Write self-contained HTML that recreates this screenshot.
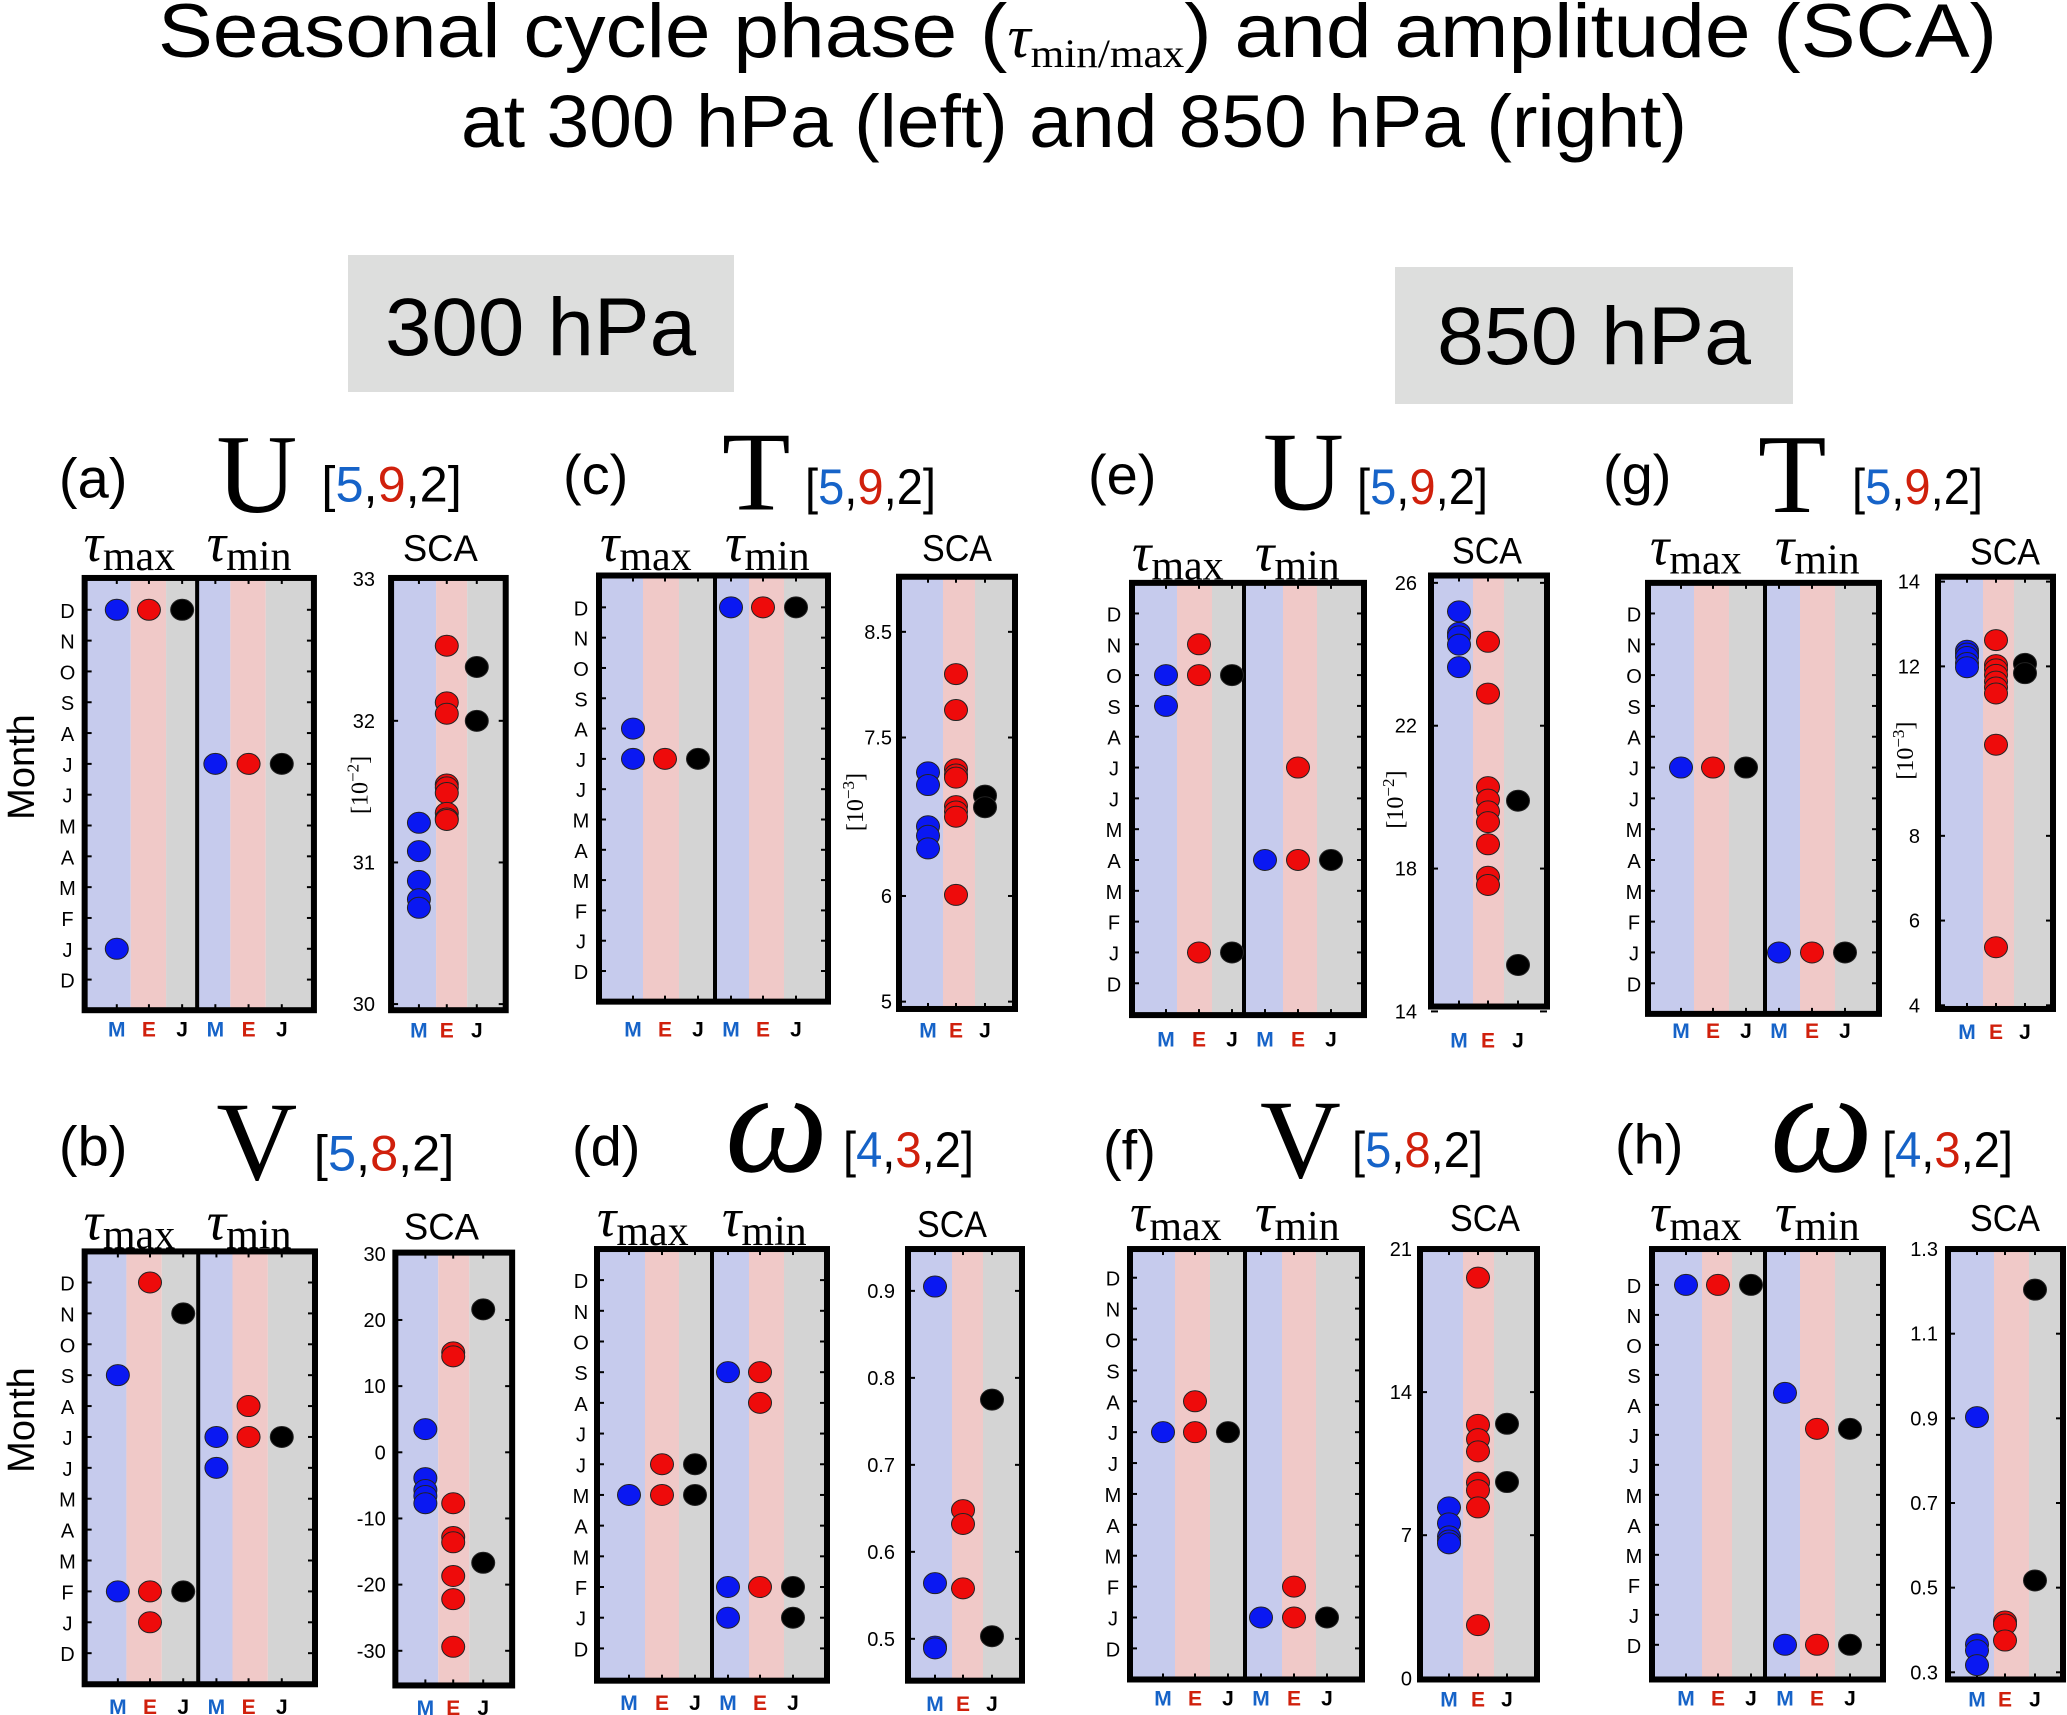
<!DOCTYPE html>
<html><head><meta charset="utf-8"><style>
html,body{margin:0;padding:0;background:#fff;}
svg{display:block;}
text{font-family:"Liberation Sans",sans-serif;}
.serif{font-family:"Liberation Serif",serif;}
</style></head><body>
<svg id="fig" xmlns="http://www.w3.org/2000/svg" width="2067" height="1715" viewBox="0 0 2067 1715">
<rect x="0" y="0" width="2067" height="1715" fill="#fff"/>
<g>
<text x="158" y="57" font-size="76" textLength="1839" lengthAdjust="spacingAndGlyphs">Seasonal cycle phase (<tspan class="serif" font-style="italic" font-size="60">τ</tspan><tspan class="serif" font-size="40" dy="10">min/max</tspan><tspan dy="-10">) and amplitude (SCA)</tspan></text>
<text x="461" y="147" font-size="74" textLength="1226" lengthAdjust="spacingAndGlyphs">at 300 hPa (left) and 850 hPa (right)</text>
</g>
<rect x="348" y="255" width="386" height="137" fill="#dddedd"/>
<text x="385" y="355" font-size="82" textLength="311" lengthAdjust="spacingAndGlyphs">300 hPa</text>
<rect x="1395" y="267" width="398" height="137" fill="#dddedd"/>
<text x="1437" y="364" font-size="82" textLength="314" lengthAdjust="spacingAndGlyphs">850 hPa</text>
<text transform="translate(34,767) rotate(-90)" font-size="38" text-anchor="middle">Month</text>
<text transform="translate(34,1420) rotate(-90)" font-size="38" text-anchor="middle">Month</text>
<g id="panels"></g>
</svg>
<script>
// ---- data ----
// panel a : U 300 hPa
const a_tmaxM=[12,1], a_tmaxE=[12], a_tmaxJ=[12];
const a_tminM=[7], a_tminE=[7], a_tminJ=[7];
const a_scaM=[31.28,31.08,30.87,30.74,30.68];
const a_scaE=[32.53,32.13,32.05,31.55,31.53,31.49,31.35,31.31,31.3];
const a_scaJ=[32.38,32.0];
const a_ticks=[33,32,31,30];
// panel b : V 300 hPa
const b_tmaxM=[9,2], b_tmaxE=[12,2,1], b_tmaxJ=[11,2];
const b_tminM=[7,6], b_tminE=[8,7], b_tminJ=[7];
const b_scaM=[3.5,-3.9,-5.7,-6.6,-7.7];
const b_scaE=[15.1,14.5,-7.7,-12.8,-13.6,-18.7,-22.2,-29.4];
const b_scaJ=[21.6,-16.7];
const b_ticks=[30,20,10,0,-10,-20,-30];
// panel c : T 300 hPa
const c_tmaxM=[8,7], c_tmaxE=[7], c_tmaxJ=[7];
const c_tminM=[12], c_tminE=[12], c_tminJ=[12];
const c_scaM=[7.17,7.05,6.66,6.57,6.45];
const c_scaE=[8.1,7.76,7.2,7.15,7.12,6.85,6.8,6.75,6.01];
const c_scaJ=[6.95,6.84];
const c_ticks=[8.5,7.5,6,5];
// panel d : omega 300 hPa
const d_tmaxM=[5], d_tmaxE=[6,5], d_tmaxJ=[6,5];
const d_tminM=[9,2,1], d_tminE=[9,8,2], d_tminJ=[2,1];
const d_scaM=[0.905,0.564,0.491,0.489];
const d_scaE=[0.648,0.632,0.558];
const d_scaJ=[0.775,0.503];
const d_ticks=[0.9,0.8,0.7,0.6,0.5];
// panel e : U 850 hPa
const e_tmaxM=[10,9], e_tmaxE=[11,10,1], e_tmaxJ=[10,1];
const e_tminM=[4], e_tminE=[7,4], e_tminJ=[4];
const e_scaM=[25.2,24.6,24.5,24.27,23.64];
const e_scaE=[24.35,22.9,20.28,19.93,19.6,19.3,18.68,17.77,17.54];
const e_scaJ=[19.9,15.3];
const e_ticks=[26,22,18,14];
// panel f : V 850 hPa
const f_tmaxM=[7], f_tmaxE=[8,7], f_tmaxJ=[7];
const f_tminM=[1], f_tminE=[2,1], f_tminJ=[1];
const f_scaM=[8.36,7.58,6.94,6.74,6.6];
const f_scaE=[19.6,12.4,11.7,11.1,9.57,9.2,8.36,2.6];
const f_scaJ=[12.45,9.6];
const f_ticks=[21,14,7,0];
// panel g : T 850 hPa
const g_tmaxM=[7], g_tmaxE=[7], g_tmaxJ=[7];
const g_tminM=[1], g_tminE=[1], g_tminJ=[1];
const g_scaM=[12.37,12.3,12.22,12.08,11.98];
const g_scaE=[12.62,12.03,11.93,11.8,11.64,11.5,11.36,10.15,5.37];
const g_scaJ=[12.06,11.84];
const g_ticks=[14,12,8,6,4];
// panel h : omega 850 hPa
const h_tmaxM=[12], h_tmaxE=[12], h_tmaxJ=[12];
const h_tminM=[8.4,0], h_tminE=[7.2,0], h_tminJ=[7.2,0];
const h_scaM=[0.903,0.366,0.352,0.317];
const h_scaE=[0.42,0.413,0.375];
const h_scaJ=[1.204,0.517];
const h_ticks=[1.3,1.1,0.9,0.7,0.5,0.3];
const monthLabels=['D','J','F','M','A','M','J','J','A','S','O','N','D'];

// ---- layout (geometry only) ----
const NS='http://www.w3.org/2000/svg';
const root=document.getElementById('panels');
function mk(tag,attrs,parent){const e=document.createElementNS(NS,tag);for(const k in attrs)e.setAttribute(k,attrs[k]);parent.appendChild(e);return e;}
const BAND=['#c6cbed','#f0c9c8','#d4d4d4'];
const DOT=['#0a18f2','#ee0b0b','#000000'];
const LAB=['#1663c8','#d0200c','#000000'];
const panels=[
 {id:'a',o:[0,420,2.8,2.45],label:'(a)',lx:55,ly:480,v:'U',vx:202,vy:495,vs:112,nums:['5','9','2'],nx:300,ny:484,tmx:78,tmn:193,ty:535,scx:376,scy:535,
  ph:{x0:79,x1:293,y0:549,y1:902,div:184,bands:[79,122,155,184,215,248,293],cols:[109,139,170,201,232,263],m12:575,m0:877},monthX:63,mejY:917,
  sca:{x0:365,x1:472,y0:549,y1:902,bands:[365,407,436,472],cols:[391,417,445],v0:33,p0:550,v1:30,p1:897,tickX:350},unit:{x:343,y:718,e:'−2'},
  data:[a_tmaxM,a_tmaxE,a_tmaxJ,a_tminM,a_tminE,a_tminJ],sd:[a_scaM,a_scaE,a_scaJ],ticks:a_ticks},
 {id:'b',o:[0,1090,2.8,2.509],label:'(b)',lx:55,ly:1150,v:'V',vx:202,vy:1165,vs:112,nums:['5','8','2'],nx:293,ny:1155,tmx:78,tmn:193,ty:1215,scx:377,scy:1215,
  ph:{x0:79,x1:294,y0:1225,y1:1587,div:185,bands:[79,118,151,185,217,250,294],cols:[110,140,171,202,232,263],m12:1251,m0:1561},monthX:63,mejY:1605,
  sca:{x0:369,x1:478,y0:1226,y1:1588,bands:[369,409,438,478],cols:[397,423,451],v0:30,p0:1227,v1:-30,p1:1559,tickX:360},unit:null,
  data:[b_tmaxM,b_tmaxE,b_tmaxJ,b_tminM,b_tminE,b_tminJ],sd:[b_scaM,b_scaE,b_scaJ],ticks:b_ticks},
 {id:'c',o:[540,420,3.0,2.45],label:'(c)',lx:563,ly:477,v:'T',vx:722,vy:493,vs:112,nums:['5','9','2'],nx:805,ny:486,tmx:600,tmn:725,ty:535,scx:922,scy:535,
  ph:{x0:599,x1:828,y0:547,y1:895,div:715,bands:[599,643,679,715,749,784,828],cols:[633,665,698,731,763,796],m12:573,m0:870},monthX:581,mejY:917,
  sca:{x0:899,x1:1015,y0:548,y1:901,bands:[899,943,975,1015],cols:[928,956,985],v0:8.5,p0:593,v1:5,p1:895,tickX:892},unit:{x:863,y:732,e:'−3'},
  data:[c_tmaxM,c_tmaxE,c_tmaxJ,c_tminM,c_tminE,c_tminJ],sd:[c_scaM,c_scaE,c_scaJ],ticks:c_ticks},
 {id:'d',o:[540,1090,3.0,2.509],label:'(d)',lx:572,ly:1150,v:'ω',vx:725,vy:1158,vs:146,nums:['4','3','2'],nx:843,ny:1152,tmx:597,tmn:722,ty:1212,scx:917,scy:1213,
  ph:{x0:597,x1:827,y0:1223,y1:1584,div:712,bands:[597,645,679,712,749,784,827],cols:[629,662,695,728,760,793],m12:1249,m0:1557},monthX:581,mejY:1602,
  sca:{x0:908,x1:1022,y0:1223,y1:1584,bands:[908,952,983,1022],cols:[935,963,992],v0:0.9,p0:1258,v1:0.5,p1:1549,tickX:895},unit:null,
  data:[d_tmaxM,d_tmaxE,d_tmaxJ,d_tminM,d_tminE,d_tminJ],sd:[d_scaM,d_scaE,d_scaJ],ticks:d_ticks},
 {id:'e',o:[1060,420,3.0,2.45],label:'(e)',lx:1088,ly:477,v:'U',vx:1263,vy:493,vs:112,nums:['5','9','2'],nx:1357,ny:486,tmx:1132,tmn:1255,ty:543,scx:1452,scy:537,
  ph:{x0:1132,x1:1364,y0:553,y1:906,div:1244,bands:[1132,1177,1212,1244,1283,1317,1364],cols:[1166,1199,1232,1265,1298,1331],m12:578,m0:880},monthX:1114,mejY:925,
  sca:{x0:1431,x1:1547,y0:547,y1:899,bands:[1431,1473,1504,1547],cols:[1459,1488,1518],v0:26,p0:553,v1:14,p1:903,tickX:1417},unit:{x:1403,y:730,e:'−2'},
  data:[e_tmaxM,e_tmaxE,e_tmaxJ,e_tminM,e_tminE,e_tminJ],sd:[e_scaM,e_scaE,e_scaJ],ticks:e_ticks},
 {id:'f',o:[1060,1090,3.0,2.509],label:'(f)',lx:1103,ly:1153,v:'V',vx:1260,vy:1163,vs:112,nums:['5','8','2'],nx:1352,ny:1152,tmx:1130,tmn:1255,ty:1208,scx:1450,scy:1208,
  ph:{x0:1130,x1:1362,y0:1223,y1:1583,div:1245,bands:[1130,1175,1210,1245,1282,1316,1362],cols:[1163,1195,1228,1261,1294,1327],m12:1247,m0:1557},monthX:1113,mejY:1598,
  sca:{x0:1420,x1:1537,y0:1223,y1:1583,bands:[1420,1463,1494,1537],cols:[1449,1478,1507],v0:21,p0:1223,v1:0,p1:1582,tickX:1412},unit:null,
  data:[f_tmaxM,f_tmaxE,f_tmaxJ,f_tminM,f_tminE,f_tminJ],sd:[f_scaM,f_scaE,f_scaJ],ticks:f_ticks},
 {id:'g',o:[1570,420,3.0,2.45],label:'(g)',lx:1603,ly:477,v:'T',vx:1758,vy:495,vs:112,nums:['5','9','2'],nx:1852,ny:486,tmx:1650,tmn:1775,ty:538,scx:1970,scy:538,
  ph:{x0:1648,x1:1879,y0:553,y1:905,div:1765,bands:[1648,1694,1729,1765,1800,1835,1879],cols:[1681,1713,1746,1779,1812,1845],m12:578,m0:880},monthX:1634,mejY:918,
  sca:{x0:1938,x1:2053,y0:548,y1:901,bands:[1938,1983,2014,2053],cols:[1967,1996,2025],v0:14,p0:552,v1:4,p1:898,tickX:1920},unit:{x:1913,y:690,e:'−3'},
  data:[g_tmaxM,g_tmaxE,g_tmaxJ,g_tminM,g_tminE,g_tminJ],sd:[g_scaM,g_scaE,g_scaJ],ticks:g_ticks},
 {id:'h',o:[1570,1090,3.0,2.509],label:'(h)',lx:1615,ly:1148,v:'ω',vx:1770,vy:1158,vs:146,nums:['4','3','2'],nx:1882,ny:1152,tmx:1650,tmn:1775,ty:1208,scx:1970,scy:1208,
  ph:{x0:1652,x1:1883,y0:1223,y1:1583,div:1765,bands:[1652,1702,1732,1765,1800,1835,1883],cols:[1686,1718,1751,1785,1817,1850],m12:1253,m0:1554},monthX:1634,mejY:1598,
  sca:{x0:1948,x1:2063,y0:1223,y1:1583,bands:[1948,1994,2029,2063],cols:[1977,2005,2035],v0:1.3,p0:1223,v1:0.3,p1:1577,tickX:1938},unit:null,
  data:[h_tmaxM,h_tmaxE,h_tmaxJ,h_tminM,h_tminE,h_tminJ],sd:[h_scaM,h_scaE,h_scaJ],ticks:h_ticks}
];
const NAMES=['M','E','J'];

function fix(P){
  const [ox,oy,fx,fy]=P.o;
  const X=v=>ox+(v-ox)*3/fx, Y=v=>oy+(v-oy)*3/fy;
  ['lx','vx','nx','tmx','tmn','scx','monthX'].forEach(k=>P[k]=X(P[k]));
  ['ly','vy','ny','ty','scy','mejY'].forEach(k=>P[k]=Y(P[k]));
  P.sx=3/fx;
  const ph=P.ph;
  ['x0','x1','div'].forEach(k=>ph[k]=X(ph[k]));
  ['y0','y1','m12','m0'].forEach(k=>ph[k]=Y(ph[k]));
  ph.bands=ph.bands.map(X);ph.cols=ph.cols.map(X);
  const s=P.sca;
  ['x0','x1','tickX'].forEach(k=>s[k]=X(s[k]));
  ['y0','y1','p0','p1'].forEach(k=>s[k]=Y(s[k]));
  s.bands=s.bands.map(X);s.cols=s.cols.map(X);
  if(P.unit){P.unit.x=X(P.unit.x);P.unit.y=Y(P.unit.y);}
}

function drawPanel(P){
  fix(P);
  const g=mk('g',{},root);
  
  
  const tl=mk('text',{x:P.lx,y:P.ly+4,'font-size':56},g);tl.textContent=P.label;
  
  
  const tv=mk('text',{x:P.vx,y:P.vy,'font-size':P.vs,class:'serif','font-style':P.v==='ω'?'italic':'normal'},g);tv.textContent=P.v;
  
  
  const tn=mk('text',{x:P.nx,y:P.ny+3,'font-size':50,textLength:131*P.sx,lengthAdjust:'spacingAndGlyphs'},g);
  
  
  const parts=[['[','#000'],[P.nums[0],LAB[0]],[',','#000'],[P.nums[1],LAB[1]],[','+P.nums[2]+']','#000']];
  parts.forEach(p=>{const s=mk('tspan',{fill:p[1]},tn);s.textContent=p[0];});
  [['max',P.tmx],['min',P.tmn]].forEach(([sub,x])=>{
    const t=mk('text',{x:x,y:P.ty,class:'serif'},g);
    
    
    const s1=mk('tspan',{'font-size':54,'font-style':'italic'},t);s1.textContent='τ';
    const s2=mk('tspan',{'font-size':42,dy:9},t);s2.textContent=sub;
  });
  const ts=mk('text',{x:P.scx,y:P.scy,'font-size':37,textLength:70*P.sx,lengthAdjust:'spacingAndGlyphs'},g);ts.textContent='SCA';
  
  

  const ph=P.ph;
  const yM=v=>ph.m0+(ph.m12-ph.m0)*v/12;
  for(let i=0;i<6;i++){
    const r=mk('rect',{x:ph.bands[i],y:ph.y0,width:ph.bands[i+1]-ph.bands[i],height:ph.y1-ph.y0,fill:BAND[i%3]},g);
    
    
  }
  for(let m=0;m<=12;m++){
    const y=yM(m);
    mk('line',{x1:ph.x0,x2:ph.x0+7,y1:y,y2:y,stroke:'#000','stroke-width':2},g);
    mk('line',{x1:ph.x1-7,x2:ph.x1,y1:y,y2:y,stroke:'#000','stroke-width':2},g);
    const t=mk('text',{x:P.monthX,y:y+8,'font-size':20,'text-anchor':'middle'},g);t.textContent=monthLabels[m];
    
    
  }
  ph.cols.forEach(cx=>{
    mk('line',{x1:cx,x2:cx,y1:ph.y0,y2:ph.y0+6,stroke:'#000','stroke-width':2},g);
    mk('line',{x1:cx,x2:cx,y1:ph.y1-6,y2:ph.y1,stroke:'#000','stroke-width':2},g);
  });
  const dv=mk('line',{x1:ph.div,x2:ph.div,y1:ph.y0,y2:ph.y1,stroke:'#000','stroke-width':4},g);
  
  
  const bx=mk('rect',{x:ph.x0,y:ph.y0,width:ph.x1-ph.x0,height:ph.y1-ph.y0,fill:'none',stroke:'#000','stroke-width':6},g);
  
  
  P.data.forEach((arr,k)=>{
    arr.forEach(v=>{
      const c=mk('ellipse',{cx:ph.cols[k],cy:yM(v),rx:11.5,ry:10.5,fill:DOT[k%3],stroke:'#222','stroke-width':1},g);
      
      
    });
    const t=mk('text',{x:ph.cols[k],y:P.mejY+8,'font-size':21,'font-weight':'bold','text-anchor':'middle',fill:LAB[k%3]},g);t.textContent=NAMES[k%3];
    
    
  });

  const s=P.sca;
  const yS=v=>s.p0+(s.p1-s.p0)*(v-s.v0)/(s.v1-s.v0);
  for(let i=0;i<3;i++){
    const r=mk('rect',{x:s.bands[i],y:s.y0,width:s.bands[i+1]-s.bands[i],height:s.y1-s.y0,fill:BAND[i]},g);
    
    
  }
  P.ticks.forEach(v=>{
    const y=yS(v);
    mk('line',{x1:s.x0,x2:s.x0+7,y1:y,y2:y,stroke:'#000','stroke-width':2},g);
    mk('line',{x1:s.x1-7,x2:s.x1,y1:y,y2:y,stroke:'#000','stroke-width':2},g);
    const t=mk('text',{x:s.tickX,y:y+7,'font-size':20,'text-anchor':'end'},g);t.textContent=String(v);
    
    
  });
  s.cols.forEach(cx=>{
    mk('line',{x1:cx,x2:cx,y1:s.y0,y2:s.y0+6,stroke:'#000','stroke-width':2},g);
    mk('line',{x1:cx,x2:cx,y1:s.y1-6,y2:s.y1,stroke:'#000','stroke-width':2},g);
  });
  const sb=mk('rect',{x:s.x0,y:s.y0,width:s.x1-s.x0,height:s.y1-s.y0,fill:'none',stroke:'#000','stroke-width':6},g);
  
  
  P.sd.forEach((arr,k)=>{
    arr.forEach(v=>{
      const c=mk('ellipse',{cx:s.cols[k],cy:yS(v),rx:11.5,ry:10.5,fill:DOT[k],stroke:'#222','stroke-width':1},g);
      
      
    });
    const t=mk('text',{x:s.cols[k],y:P.mejY+9,'font-size':21,'font-weight':'bold','text-anchor':'middle',fill:LAB[k]},g);t.textContent=NAMES[k];
    
    
  });
  if(P.unit){
    const u=mk('text',{transform:'translate('+P.unit.x+','+P.unit.y+') rotate(-90)','font-size':24,'text-anchor':'middle',class:'serif'},g);
    
    
    const a1=mk('tspan',{},u);a1.textContent='[10';
    const a2=mk('tspan',{dy:-9,'font-size':17},u);a2.textContent=P.unit.e;
    const a3=mk('tspan',{dy:9},u);a3.textContent=']';
  }
}
panels.forEach(drawPanel);
</script>
</body></html>
